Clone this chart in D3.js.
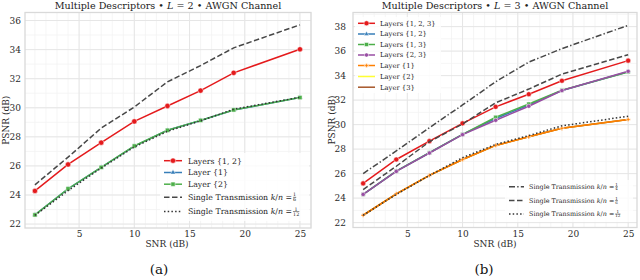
<!DOCTYPE html>
<html><head><meta charset="utf-8">
<script src="https://cdn.jsdelivr.net/npm/d3@7"></script>
<style>body{margin:0;background:#fff}svg{display:block}text{font-family:"DejaVu Serif",serif}</style>
</head><body><svg id="c" width="640" height="280"></svg>
<script>
const snr = [1, 4, 7, 10, 13, 16, 19, 25];
const xTicks = [5, 10, 15, 20, 25];
const aYTicks = [22, 24, 26, 28, 30, 32, 34, 36];
const bYTicks = [22, 24, 26, 28, 30, 32, 34, 36, 38];

// Panel (a) L = 2
const aLayers12 = [24.28, 26.1, 27.6, 29.06, 30.12, 31.18, 32.4, 34.02];
const aLayer1   = [22.64, 24.42, 25.9, 27.36, 28.45, 29.12, 29.84, 30.7];
const aLayer2   = [22.63, 24.43, 25.9, 27.37, 28.45, 29.13, 29.85, 30.7];
const aSingle6  = [24.7, 26.6, 28.6, 30.05, 31.78, 32.9, 34.12, 35.7];
const aSingle12 = [22.6, 24.3, 25.85, 27.3, 28.38, 29.1, 29.9, 30.72];

// Panel (b) L = 3
const bLayers123 = [25.2, 27.15, 28.65, 30.1, 31.45, 32.48, 33.58, 35.22];
const bLayers12  = [24.3, 26.2, 27.7, 29.2, 30.5, 31.6, 32.78, 34.32];
const bLayers13  = [24.3, 26.2, 27.7, 29.2, 30.6, 31.68, 32.8, 34.3];
const bLayers23  = [24.3, 26.18, 27.68, 29.18, 30.35, 31.5, 32.78, 34.35];
const bLayer1    = [22.6, 24.35, 25.85, 27.15, 28.3, 29.0, 29.7, 30.42];
const bLayer2    = [22.6, 24.35, 25.85, 27.15, 28.3, 29.0, 29.7, 30.42];
const bLayer3    = [22.6, 24.35, 25.85, 27.15, 28.3, 29.0, 29.7, 30.42];
const bSingle4   = [26.0, 27.85, 29.75, 31.6, 33.5, 35.1, 36.2, 38.1];
const bSingle6   = [24.7, 26.6, 28.6, 30.05, 31.78, 32.9, 34.12, 35.7];
const bSingle12  = [22.6, 24.3, 25.85, 27.3, 28.38, 29.1, 29.9, 30.68];

const svg = d3.select("#c");
const REF = "#474747";
const TXT = "#2b2b2b";

function panel(o) {
  const g = svg.append("g");
  const x = d3.scaleLinear().domain(o.xd).range([o.left, o.right]);
  const y = d3.scaleLinear().domain(o.yd).range([o.bottom, o.top]);
  const minorX = d3.range(Math.ceil(o.xd[0]), Math.floor(o.xd[1]) + 1);
  const minorY = d3.range(Math.ceil(o.yd[0]), Math.floor(o.yd[1]) + 1);
  g.selectAll(".mx").data(minorX).join("line").attr("x1", d => x(d)).attr("x2", d => x(d))
    .attr("y1", o.top).attr("y2", o.bottom).attr("stroke", "#f2f2f2").attr("stroke-width", 0.8);
  g.selectAll(".my").data(minorY).join("line").attr("y1", d => y(d)).attr("y2", d => y(d))
    .attr("x1", o.left).attr("x2", o.right).attr("stroke", "#f2f2f2").attr("stroke-width", 0.8);
  g.selectAll(".gx").data(xTicks).join("line").attr("x1", d => x(d)).attr("x2", d => x(d))
    .attr("y1", o.top).attr("y2", o.bottom).attr("stroke", "#e6e6e6").attr("stroke-width", 1);
  g.selectAll(".gy").data(o.yTicks).join("line").attr("y1", d => y(d)).attr("y2", d => y(d))
    .attr("x1", o.left).attr("x2", o.right).attr("stroke", "#e6e6e6").attr("stroke-width", 1);
  g.append("rect").attr("x", o.left).attr("y", o.top).attr("width", o.right - o.left)
    .attr("height", o.bottom - o.top).attr("fill", "none").attr("stroke", "#d9d9d9").attr("stroke-width", 1.3);

  const xa = g.append("g").attr("transform", `translate(0,${o.bottom})`)
    .call(d3.axisBottom(x).tickValues(xTicks).tickSize(0).tickPadding(3));
  xa.select(".domain").remove();
  xa.selectAll("text").attr("font-size", 9).attr("font-family", "DejaVu Serif").attr("fill", TXT);
  const ya = g.append("g").attr("transform", `translate(${o.yLabX},0)`)
    .call(d3.axisLeft(y).tickValues(o.yTicks).tickSize(0).tickPadding(0));
  ya.select(".domain").remove();
  ya.selectAll("text").attr("font-size", 9).attr("font-family", "DejaVu Serif").attr("fill", TXT);

  const line = d3.line().x((d, i) => x(snr[i])).y(d => y(d));
  o.series.forEach(s => {
    g.append("path").datum(s.v).attr("d", line).attr("fill", "none").attr("stroke", s.c)
      .attr("stroke-width", s.w || 1.5).attr("stroke-dasharray", s.dash || null);
    if (s.m) {
      g.selectAll(null).data(s.v).join("path")
        .attr("transform", (d, i) => `translate(${x(snr[i])},${y(d)})`)
        .attr("d", d3.symbol().type(s.m).size(s.ms || 22))
        .attr("fill", s.c).attr("stroke", "#fff").attr("stroke-width", 0.5);
    }
  });

  const t = g.append("text").attr("x", (o.left + o.right) / 2).attr("y", 8.5)
    .attr("text-anchor", "middle").attr("font-size", 9.6).attr("fill", "#222");
  t.append("tspan").text("Multiple Descriptors • ");
  t.append("tspan").attr("font-style", "italic").text("L");
  t.append("tspan").text(` = ${o.L} • AWGN Channel`);

  g.append("text").attr("x", o.xLabX).attr("y", 247).attr("text-anchor", "middle")
    .attr("font-size", 9).attr("fill", TXT).text("SNR (dB)");
  g.append("text").attr("transform", `translate(${o.yTitleX},${(o.top + o.bottom) / 2}) rotate(-90)`)
    .attr("text-anchor", "middle").attr("font-size", 9).attr("fill", TXT).text("PSNR (dB)");
  g.append("text").attr("x", o.capX).attr("y", 274).attr("text-anchor", "middle")
    .attr("font-size", 13.5).attr("fill", "#111").text(o.cap);
  return g;
}

function legend(g, items, o) {
  items.forEach((s, i) => {
    const yy = o.ys[i];
    g.append("line").attr("x1", o.sx0).attr("x2", o.sx1).attr("y1", yy).attr("y2", yy)
      .attr("stroke", s.c).attr("stroke-width", 1.5).attr("stroke-dasharray", s.dash || null);
    if (s.m) {
      g.append("path").attr("transform", `translate(${(o.sx0 + o.sx1) / 2},${yy})`)
        .attr("d", d3.symbol().type(s.m).size(s.ms || 22)).attr("fill", s.c)
        .attr("stroke", "#fff").attr("stroke-width", 0.5);
    }
    const t = g.append("text").attr("x", o.tx).attr("y", yy + o.fs * 0.36).attr("font-size", o.fs)
      .attr("fill", "#262626");
    if (s.frac) {
      t.append("tspan").text("Single Transmission ");
      t.append("tspan").attr("font-style", "italic").text("k");
      t.append("tspan").text("/");
      t.append("tspan").attr("font-style", "italic").text("n");
      t.append("tspan").text(" = ");
      const w = t.node().getComputedTextLength();
      const fs = o.fs * 0.62;
      const fx = o.tx + w + 1 + s.frac[1].length * fs * 0.32;
      g.append("text").attr("x", fx).attr("y", yy - 1).attr("text-anchor", "middle")
        .attr("font-size", fs).attr("fill", "#262626").text(s.frac[0]);
      g.append("line").attr("x1", fx - (s.frac[1].length * fs * 0.33)).attr("x2", fx + (s.frac[1].length * fs * 0.33))
        .attr("y1", yy).attr("y2", yy).attr("stroke", "#262626").attr("stroke-width", 0.5);
      g.append("text").attr("x", fx).attr("y", yy + fs * 0.85).attr("text-anchor", "middle")
        .attr("font-size", fs).attr("fill", "#262626").text(s.frac[1]);
    } else {
      t.text(s.label);
    }
  });
}

const red = "#e41a1c", blue = "#377eb8", green = "#4daf4a", purple = "#984ea3",
      orange = "#ff7f00", yellow = "#ffff33", brown = "#a65628";

const aSeries = [
  {label: "Layers {1, 2}", v: aLayers12, c: red, m: d3.symbolCircle, ms: 22},
  {label: "Layer {1}", v: aLayer1, c: blue, m: d3.symbolTriangle, ms: 12},
  {label: "Layer {2}", v: aLayer2, c: green, m: d3.symbolSquare, ms: 18},
  {v: aSingle6, c: REF, dash: "5.5,2.5", frac: ["1", "6"]},
  {v: aSingle12, c: "#333", dash: "1.5,2.2", frac: ["1", "12"]}
];
const ga = panel({left: 25, right: 311, top: 12.5, bottom: 228, xd: [0.1, 26.0], yd: [21.73, 36.55],
  yTicks: aYTicks, series: aSeries, L: 2, yLabX: 21, xLabX: 167, yTitleX: 8.5, capX: 159, cap: "(a)"});
ga.append("rect").attr("x", 160).attr("y", 153).attr("width", 149).attr("height", 68)
  .attr("fill", "#fff").attr("opacity", 0.8);
legend(ga, aSeries, {ys: [160.7, 172.5, 184.2, 197.3, 211.5], sx0: 164, sx1: 182, tx: 188, fs: 7.8});

const bSeries = [
  {label: "Layers {1, 2, 3}", v: bLayers123, c: red, m: d3.symbolCircle, ms: 20},
  {label: "Layers {1, 2}", v: bLayers12, c: blue, m: d3.symbolTriangle, ms: 10},
  {label: "Layers {1, 3}", v: bLayers13, c: green, m: d3.symbolSquare, ms: 16},
  {label: "Layers {2, 3}", v: bLayers23, c: purple, m: d3.symbolCircle, ms: 14},
  {label: "Layer {2}", v: bLayer2, c: yellow},
  {label: "Layer {3}", v: bLayer3, c: brown},
  {label: "Layer {1}", v: bLayer1, c: orange, m: d3.symbolCross, ms: 10},
  {v: bSingle4, c: REF, dash: "6,2.2,1.4,2.2", frac: ["1", "4"]},
  {v: bSingle6, c: REF, dash: "5.5,2.5", frac: ["1", "6"]},
  {v: bSingle12, c: "#333", dash: "1.5,2.2", frac: ["1", "12"]}
];
const gb = panel({left: 353, right: 637, top: 12.5, bottom: 227.5, xd: [0.08, 25.8], yd: [21.6, 39.15],
  yTicks: bYTicks, series: bSeries, L: 3, yLabX: 346, xLabX: 495, yTitleX: 334.5, capX: 484, cap: "(b)"});
const bLegTop = [bSeries[0], bSeries[1], bSeries[2], bSeries[3], bSeries[6], bSeries[4], bSeries[5]];
gb.append("rect").attr("x", 355).attr("y", 17).attr("width", 86).attr("height", 76)
  .attr("fill", "#fff").attr("opacity", 0.8);
legend(gb, bLegTop, {ys: [23.3, 34, 44.5, 55, 65.5, 76.5, 87.2], sx0: 358, sx1: 375, tx: 380, fs: 6.8});
gb.append("rect").attr("x", 505).attr("y", 180).attr("width", 128).attr("height", 42)
  .attr("fill", "#fff").attr("opacity", 0.8);
legend(gb, bSeries.slice(7), {ys: [186.7, 200.5, 214], sx0: 509, sx1: 524, tx: 529, fs: 6.4});
</script></body></html>
